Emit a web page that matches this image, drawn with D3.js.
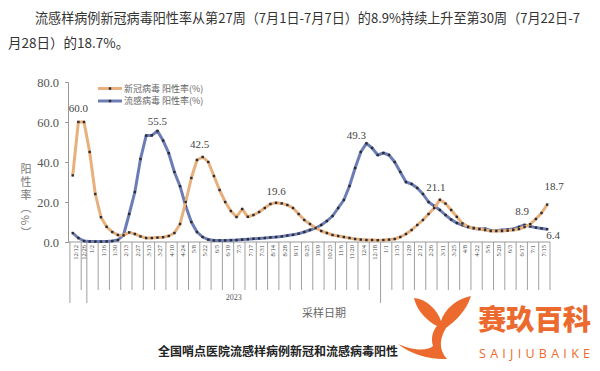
<!DOCTYPE html>
<html><head><meta charset="utf-8">
<script src="https://cdn.jsdelivr.net/npm/d3@7"></script>
<style>body{margin:0;background:#fff}svg{display:block}</style>
</head><body>
<script>
// ---------- data ----------
const weekLabels = [
 "12/12","12/19","12/26",
 "1/2","1/9","1/16","1/23","1/30","2/6","2/13","2/20","2/27","3/6","3/13","3/20","3/27",
 "4/3","4/10","4/17","4/24","5/1","5/8","5/15","5/22","5/29","6/5","6/12","6/19","6/26",
 "7/3","7/10","7/17","7/24","7/31","8/7","8/14","8/21","8/28","9/4","9/11","9/18","9/25",
 "10/2","10/9","10/16","10/23","10/30","11/6","11/13","11/20","11/27","12/4","12/11","12/18","12/25",
 "1/1","1/8","1/15","1/22","1/29","2/5","2/12","2/19","2/26","3/4","3/11","3/18","3/25",
 "4/1","4/8","4/15","4/22","4/29","5/6","5/13","5/20","5/27","6/3","6/10","6/17","6/24",
 "7/1","7/8","7/15","7/22"
];
const yearNames = ["2022","2023","2024"];
const yearWeeks = [3, 52, 30];
const covidRate = [
 33.3,60.0,60.0,45.0,24.0,12.4,7.6,5.0,3.5,3.3,
 4.8,4.0,2.8,2.0,2.0,2.2,2.4,3.0,4.5,9.0,
 20.0,32.0,41.0,42.5,40.0,33.0,26.0,20.0,15.5,12.5,
 16.5,12.6,13.5,15.0,17.0,19.0,19.6,19.3,18.5,17.0,
 14.0,11.0,9.0,7.0,5.5,4.5,3.5,3.0,2.5,2.0,
 1.5,1.2,1.0,1.0,0.9,1.0,1.2,1.5,2.5,4.0,
 6.0,8.5,11.0,14.0,17.0,21.1,19.2,16.0,12.6,9.3,
 7.6,7.0,6.5,6.0,5.5,5.5,5.5,5.7,6.0,6.5,
 7.5,8.9,11.5,14.5,18.7
];
const fluRate = [
 4.5,2.0,0.5,0.3,0.2,0.2,0.3,0.5,1.0,3.5,
 14.0,25.0,41.5,53.2,53.3,55.5,50.7,44.4,35.0,27.9,
 18.0,10.0,5.0,2.5,1.2,0.8,0.8,0.8,0.9,1.0,
 1.2,1.4,1.6,1.8,2.0,2.3,2.5,2.8,3.2,3.6,
 4.2,5.0,6.0,7.0,8.5,10.5,13.0,17.0,21.0,28.0,
 37.0,45.0,49.3,47.0,43.5,44.5,43.5,40.0,35.0,30.0,
 29.0,27.0,24.0,20.0,18.0,16.0,13.5,11.2,9.5,8.5,
 7.5,6.8,6.5,6.6,5.8,5.6,6.0,6.2,6.5,7.5,
 8.5,7.8,7.2,6.8,6.4
];
const yTicks = [0,20,40,60,80];
const seriesNames = ["新冠病毒 阳性率(%)","流感病毒 阳性率(%)"];
// data labels: [series index, week index, text]
const labelSeries = [0,1,0,0,1,0,0,0,1];
const labelWeek   = [1,15,23,36,52,65,81,84,84];
const labelText   = ["60.0","55.5","42.5","19.6","49.3","21.1","8.9","18.7","6.4"];

// ---------- drawing ----------
const W = 600, H = 371;
const svg = d3.select("body").append("svg").attr("width", W).attr("height", H);
const serif = "'Liberation Serif','DejaVu Serif',serif";
const cjk = "'Noto Sans CJK SC','Noto Sans',sans-serif";

// header paragraph
svg.append("text").attr("x", 35).attr("y", 23)
  .attr("font-family", cjk).attr("font-size", 13.5).attr("fill", "#333")
  .attr("textLength", 545).attr("lengthAdjust", "spacingAndGlyphs")
  .text("流感样病例新冠病毒阳性率从第27周（7月1日-7月7日）的8.9%持续上升至第30周（7月22日-7");
svg.append("text").attr("x", 8).attr("y", 48)
  .attr("font-family", cjk).attr("font-size", 13.5).attr("fill", "#333")
  .text("月28日）的18.7%。");

const idx = d3.range(weekLabels.length);
const x = d3.scaleBand().domain(idx).range([69.9, 550]).padding(0);
const y = d3.scaleLinear().domain([0, 80]).range([242, 82]);
const cx = i => x(i) + x.bandwidth() / 2;

// y axis
const yAxis = svg.append("g").attr("transform", "translate(68,0)")
  .call(d3.axisLeft(y).tickValues(yTicks).tickFormat(d3.format(".1f")).tickSize(3).tickPadding(6));
yAxis.select(".domain").attr("stroke", "#999");
yAxis.selectAll(".tick line").attr("stroke", "#999");
yAxis.selectAll(".tick text").attr("font-family", serif).attr("font-size", 12.5).attr("fill", "#555");

// y title (vertical writing)
svg.append("text").attr("x", 26).attr("y", 163)
  .style("writing-mode", "vertical-rl").attr("letter-spacing", 2)
  .attr("font-family", cjk).attr("font-size", 11).attr("fill", "#777")
  .text("阳性率（%）");

// x axis baseline
svg.append("line").attr("x1", 68).attr("x2", 550).attr("y1", y(0)).attr("y2", y(0))
  .attr("stroke", "#999");

// x tick lines & labels
const groups = [];
let start = 0;
yearWeeks.forEach((n, yi) => {
  for (let k = 0; k < n; k += 2) {
    groups.push({ first: start + k, size: Math.min(2, n - k), yearStart: k === 0 });
  }
  start += n;
});
const xt = svg.append("g");
xt.selectAll("line.tk").data(groups).join("line").attr("class", "tk")
  .attr("x1", d => x(d.first)).attr("x2", d => x(d.first))
  .attr("y1", y(0)).attr("y2", d => d.yearStart ? 303 : 290)
  .attr("stroke", "#888").attr("stroke-width", 0.8);
xt.append("line").attr("x1", 550).attr("x2", 550).attr("y1", y(0)).attr("y2", 290)
  .attr("stroke", "#888").attr("stroke-width", 0.8);
xt.selectAll("text").data(groups).join("text")
  .attr("transform", d => `translate(${x(d.first) + x.bandwidth() * d.size / 2 + 2},245) rotate(-90)`)
  .attr("text-anchor", "end").attr("font-family", serif).attr("font-size", 6.5)
  .attr("fill", "#444").text(d => weekLabels[d.first]);

// year label (2023)
let acc = 0;
yearNames.forEach((nm, i) => {
  const s = acc, e = acc + yearWeeks[i];
  acc = e;
  if (nm === "2023") {
    svg.append("text").attr("x", (x(s) + x(e - 1) + x.bandwidth()) / 2).attr("y", 300)
      .attr("text-anchor", "middle").attr("font-family", serif).attr("font-size", 8)
      .attr("fill", "#555").text(nm);
  }
});
svg.append("text").attr("x", 324).attr("y", 317).attr("text-anchor", "middle")
  .attr("font-family", cjk).attr("font-size", 11).attr("fill", "#666").text("采样日期");

// lines
const colors = ["#E7B07C", "#6C7DB5"];
const data = [covidRate, fluRate];
const line = d3.line().x((d, i) => cx(i)).y(d => y(d)).curve(d3.curveLinear);
[1, 0].forEach(s => {
  svg.append("path").datum(data[s]).attr("d", line).attr("fill", "none")
    .attr("stroke", colors[s]).attr("stroke-width", 3).attr("stroke-linejoin", "round");
  svg.append("g").selectAll("rect").data(data[s]).join("rect")
    .attr("x", (d, i) => cx(i) - 1.2).attr("y", d => y(d) - 1.2)
    .attr("width", 2.4).attr("height", 2.4).attr("fill", "#2b2b33");
});

// data labels
const lblOffset = [[0,-10],[0,-6],[-3,-9],[0,-8],[-10,-4],[-4,-9],[-8,-9],[7,-15],[6,10]];
svg.append("g").selectAll("text").data(labelText).join("text")
  .attr("x", (d, i) => cx(labelWeek[i]) + lblOffset[i][0])
  .attr("y", (d, i) => y(data[labelSeries[i]][labelWeek[i]]) + lblOffset[i][1])
  .attr("text-anchor", "middle").attr("font-family", serif).attr("font-size", 11)
  .attr("fill", "#444").text(d => d);

// legend
const lg = svg.append("g");
seriesNames.forEach((nm, i) => {
  const yy = 88.5 + i * 12.5;
  lg.append("line").attr("x1", 98).attr("x2", 122).attr("y1", yy).attr("y2", yy)
    .attr("stroke", colors[i]).attr("stroke-width", 3);
  lg.append("rect").attr("x", 108.8).attr("y", yy - 1.2).attr("width", 2.4).attr("height", 2.4)
    .attr("fill", "#2b2b33");
  lg.append("text").attr("x", 124).attr("y", yy + 3.2).attr("font-family", cjk)
    .attr("font-size", 9).attr("fill", "#666").text(nm);
});

// bottom caption
svg.append("text").attr("x", 158).attr("y", 356).attr("font-family", cjk)
  .attr("font-size", 12).attr("font-weight", 600).attr("fill", "#222")
  .text("全国哨点医院流感样病例新冠和流感病毒阳性");

// watermark
const orange = "#EC6A2E";
svg.append("path").attr("fill", orange)
  .attr("d", "M414,298 C426,299 437,309 441,321 C445,309 456,299 471,296 C466,312 454,322 446,328 C440,338 438,349 447,359 C430,360 410,354 398,344 C414,351 428,351 433,346 C430,337 434,329 437,326 C427,321 417,311 414,298 Z");
svg.append("text").attr("x", 478).attr("y", 330).attr("font-family", cjk)
  .attr("font-size", 28).attr("font-weight", 900).attr("fill", orange)
  .attr("textLength", 113).attr("lengthAdjust", "spacingAndGlyphs").text("赛玖百科");
svg.append("text").attr("x", 479).attr("y", 358).attr("font-family", "'Open Sans',sans-serif")
  .attr("font-size", 12.5).attr("fill", orange)
  .attr("textLength", 111).attr("lengthAdjust", "spacing").text("SAIJIUBAIKE");
</script>
</body></html>
